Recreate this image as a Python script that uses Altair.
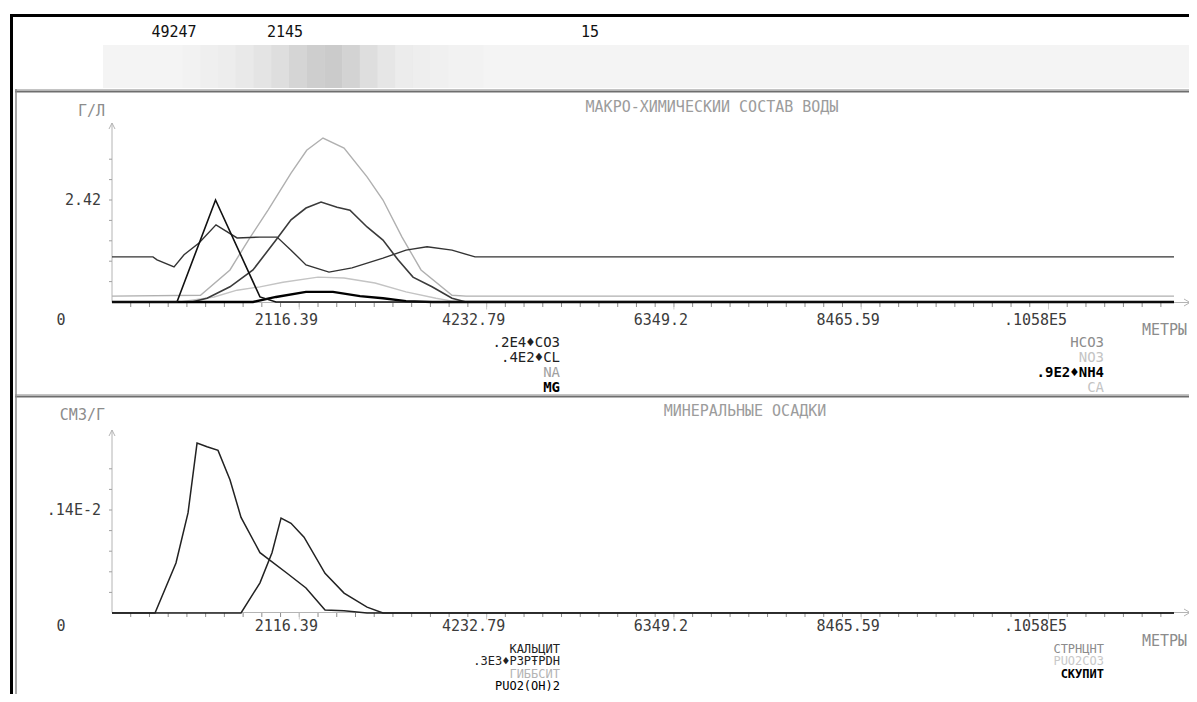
import altair as alt
import pandas as pd

FONT = "DejaVu Sans Mono"
M = 8  # page margin


def cx(v):
    return v - M


def cy(v):
    return v - M


# ---------------- data ----------------
TOP_NUMBERS = ["49247", "2145", "15"]

BAND_X0 = [800, 1000, 1200, 1400, 1600, 1800, 2000, 2200, 2400, 2600, 2800, 3000, 3200, 3400, 3600, 3800, 4000]
BAND_DENSITY = [0.03, 0.08, 0.12, 0.2, 0.3, 0.4, 0.55, 0.7, 0.75, 0.6, 0.4, 0.25, 0.15, 0.1, 0.06, 0.04, 0.03]
BAND_W = 200

X_MAJOR = [2116.39, 4232.79, 6349.2, 8465.59, 10581.95]
X_MAJOR_LABELS = ["2116.39", "4232.79", "6349.2", "8465.59", ".1058E5"]
X_MINOR_STEP = 211.639

# panel 1 : г/л
CA_X = [0, 1000, 1333, 1550, 1763, 2023, 2200, 2384, 2622, 2882, 3062, 3277, 3492, 3842, 4000, 12000]
CA_Y = [0.14, 0.16, 0.76, 1.5, 2.18, 3.06, 3.6, 3.89, 3.65, 2.97, 2.42, 1.54, 0.76, 0.16, 0.14, 0.14]
NO3_X = [0, 768, 1153, 1413, 1672, 1932, 2328, 2622, 2972, 3322, 3661, 3842, 12000]
NO3_Y = [0, 0, 0.12, 0.28, 0.36, 0.47, 0.59, 0.57, 0.45, 0.24, 0.09, 0.02, 0]
NH4_X = [0, 463, 509, 701, 814, 983, 1175, 1413, 1672, 1865, 2023, 2192, 2452, 2712, 3062, 3322, 3560, 3842, 4102, 12000]
NH4_Y = [1.07, 1.07, 1.0, 0.83, 1.12, 1.40, 1.83, 1.52, 1.54, 1.54, 1.23, 0.88, 0.71, 0.81, 1.04, 1.23, 1.31, 1.23, 1.07, 1.07]
CO3_X = [0, 900, 1074, 1333, 1593, 1853, 2023, 2192, 2362, 2543, 2689, 2882, 3062, 3232, 3401, 3616, 3842, 4000, 12000]
CO3_Y = [0, 0, 0.09, 0.36, 0.76, 1.47, 1.95, 2.23, 2.37, 2.25, 2.18, 1.78, 1.47, 1.00, 0.59, 0.36, 0.09, 0, 0]
MG_X = [0, 1593, 1853, 2192, 2497, 2802, 3062, 3322, 3616, 12000]
MG_Y = [0, 0, 0.12, 0.24, 0.24, 0.14, 0.09, 0.02, 0, 0]
CL_X = [0, 734, 1170, 1672, 1853, 12000]
CL_Y = [0, 0, 2.42, 0.12, 0, 0]

# panel 2 : см3/г
CALC_X = [0, 486, 723, 859, 961, 1074, 1198, 1333, 1458, 1672, 1978, 2192, 2407, 2622, 2882, 12000]
CALC_Y = [0, 0, 0.00068, 0.00136, 0.00231, 0.00226, 0.00221, 0.00181, 0.00130, 0.00082, 0.00054, 0.00034,
          0.00004, 0.00003, 0, 0]
RHOD_X = [0, 1458, 1672, 1808, 1910, 2023, 2170, 2407, 2622, 2882, 3062, 12000]
RHOD_Y = [0, 0, 0.00041, 0.00082, 0.00129, 0.00122, 0.00103, 0.00054, 0.00027, 0.00008, 0, 0]

Y1_LABEL_VALUE = 2.42
Y1_TICK_STEP = 0.484
Y2_LABEL_VALUE = 0.0014
Y2_TICK_STEP = 0.00028

LEG1_LEFT = [".2E4♦CO3", ".4E2♦CL", "NA", "MG"]
LEG1_LEFT_COLOR = ["#222222", "#222222", "#a0a0a0", "#000000"]
LEG1_LEFT_BOLD = [False, False, False, True]
LEG1_RIGHT = ["HCO3", "NO3", ".9E2♦NH4", "CA"]
LEG1_RIGHT_COLOR = ["#8c8c8c", "#c4c4c4", "#000000", "#c4c4c4"]
LEG1_RIGHT_BOLD = [False, False, True, False]
LEG2_LEFT = ["КАЛЬЦИТ", ".3E3♦P3PŦPDH", "ГИББСИТ", "PUO2(OH)2"]
LEG2_LEFT_COLOR = ["#222222", "#222222", "#b4b4b4", "#000000"]
LEG2_LEFT_BOLD = [False, False, False, False]
LEG2_RIGHT = ["СТРНЦНТ", "PUO2CO3", "СКУПИТ"]
LEG2_RIGHT_COLOR = ["#8c8c8c", "#c8c8c8", "#000000"]
LEG2_RIGHT_BOLD = [False, False, True]

# ---------------- scales ----------------
XS = alt.Scale(domain=[0, 10581.95], range=[cx(112), cx(1048.5)], nice=False, zero=False)
Y1S = alt.Scale(domain=[0, Y1_LABEL_VALUE], range=[cy(302), cy(200)], nice=False, zero=False)
Y2S = alt.Scale(domain=[0, Y2_LABEL_VALUE], range=[cy(613), cy(510)], nice=False, zero=False)

dummy = pd.DataFrame({"k": [0]})
layers = []


def hrule(x1, x2, y, color, w):
    return alt.Chart(dummy).mark_rule(color=color, strokeWidth=w).encode(
        x=alt.value(cx(x1)), x2=alt.value(cx(x2)), y=alt.value(cy(y)))


def vrule(x, y1, y2, color, w):
    return alt.Chart(dummy).mark_rule(color=color, strokeWidth=w).encode(
        x=alt.value(cx(x)), y=alt.value(cy(y1)), y2=alt.value(cy(y2)))


def drule(x1, y1, x2, y2, color, w):
    return alt.Chart(dummy).mark_rule(color=color, strokeWidth=w).encode(
        x=alt.value(cx(x1)), y=alt.value(cy(y1)), x2=alt.value(cx(x2)), y2=alt.value(cy(y2)))


def label(text, x, y, color="#3c3c3c", align="center", size=15, weight="normal"):
    return alt.Chart(pd.DataFrame({"t": [text]})).mark_text(
        font=FONT, fontSize=size, color=color, align=align, baseline="middle", fontWeight=weight
    ).encode(x=alt.value(cx(x)), y=alt.value(cy(y)), text="t:N")


def series(xv, yv, yscale, color, w):
    df = pd.DataFrame({"x": xv, "y": yv})
    return alt.Chart(df).mark_line(color=color, strokeWidth=w, strokeJoin="miter").encode(
        x=alt.X("x:Q", scale=XS, axis=None),
        y=alt.Y("y:Q", scale=yscale, axis=None),
    )


def legend(items, colors, bolds, xright, y0, y1, size):
    out = []
    for flag, wt in [(False, "normal"), (True, "bold")]:
        rows = [(t, c, i) for i, (t, c, b) in enumerate(zip(items, colors, bolds)) if b == flag]
        if not rows:
            continue
        df = pd.DataFrame({"t": [r[0] for r in rows], "c": [r[1] for r in rows], "r": [r[2] for r in rows]})
        out.append(alt.Chart(df).mark_text(font=FONT, fontSize=size, align="right", baseline="middle",
                                           fontWeight=wt).encode(
            x=alt.value(cx(xright)),
            y=alt.Y("r:Q", scale=alt.Scale(domain=[0, 3], range=[cy(y0), cy(y1)], nice=False, zero=False),
                    axis=None),
            text="t:N",
            color=alt.Color("c:N", scale=None),
        ))
    return out


# ---------------- frame ----------------
layers.append(hrule(10, 1300, 15.5, "#000000", 3))
layers.append(vrule(11.5, 14, 900, "#000000", 3))

# ---------------- top band ----------------
layers.append(alt.Chart(dummy).mark_rect(color="#f4f4f4").encode(
    x=alt.value(cx(103)), x2=alt.value(cx(1195)), y=alt.value(cy(45)), y2=alt.value(cy(88))))
band = pd.DataFrame({"x0": BAND_X0, "x1": [v + BAND_W for v in BAND_X0], "d": [v * 0.6 for v in BAND_DENSITY]})
layers.append(alt.Chart(band).mark_rect(color="#999999").encode(
    x=alt.X("x0:Q", scale=XS, axis=None), x2="x1:Q",
    y=alt.value(cy(45)), y2=alt.value(cy(88)),
    opacity=alt.Opacity("d:Q", scale=None)))
for t, xpos in zip(TOP_NUMBERS, [174, 285, 590]):
    layers.append(label(t, xpos, 32, color="#111111"))

# ---------------- panel borders ----------------
for ytop in (89.5, 394.5):
    layers.append(hrule(15, 1300, ytop, "#c4c4c4", 1))
    layers.append(hrule(15, 1300, ytop + 2, "#6e6e6e", 2))
layers.append(vrule(16, 89, 900, "#8c8c8c", 1.5))


# ---------------- axes ----------------
def axes(base_y, top_y, yscale, ystep, ylabel, unit, title, title_x, title_y, unit_y, lab_y, metry_y):
    out = []
    # y axis
    out.append(vrule(112, base_y, top_y, "#b4b4b4", 1))
    out.append(drule(112, top_y, 109, top_y + 6, "#b4b4b4", 1))
    out.append(drule(112, top_y, 115, top_y + 6, "#b4b4b4", 1))
    yt = pd.DataFrame({"y": [ystep * k for k in range(1, 8)]})
    out.append(alt.Chart(yt).mark_rule(color="#a0a0a0").encode(
        y=alt.Y("y:Q", scale=yscale, axis=None), x=alt.value(cx(109)), x2=alt.value(cx(112))))
    # x axis
    out.append(hrule(112, 1190, base_y, "#b4b4b4", 1))
    out.append(drule(1190, base_y, 1184, base_y - 3.5, "#b4b4b4", 1))
    out.append(drule(1190, base_y, 1184, base_y + 3.5, "#b4b4b4", 1))
    minor = pd.DataFrame({"x": [X_MINOR_STEP * k for k in range(1, 57)]})
    out.append(alt.Chart(minor).mark_rule(color="#8c8c8c").encode(
        x=alt.X("x:Q", scale=XS, axis=None), y=alt.value(cy(base_y + 0.5)), y2=alt.value(cy(base_y + 4.5))))
    major = pd.DataFrame({"x": X_MAJOR, "t": X_MAJOR_LABELS})
    out.append(alt.Chart(major).mark_rule(color="#cccccc").encode(
        x=alt.X("x:Q", scale=XS, axis=None), y=alt.value(cy(base_y + 0.5)), y2=alt.value(cy(base_y + 7))))
    out.append(alt.Chart(major).mark_text(font=FONT, fontSize=15, color="#3c3c3c", baseline="middle",
                                          dx=-13).encode(
        x=alt.X("x:Q", scale=XS, axis=None), y=alt.value(cy(lab_y)), text="t:N"))
    out.append(label("0", 61, lab_y))
    out.append(alt.Chart(pd.DataFrame({"y": [ystep * 5], "t": [ylabel]})).mark_text(
        font=FONT, fontSize=15, color="#3c3c3c", align="right", baseline="middle").encode(
        y=alt.Y("y:Q", scale=yscale, axis=None), x=alt.value(cx(101)), text="t:N"))
    out.append(label(unit, 105, unit_y, color="#8c8c8c", align="right"))
    out.append(label(title, title_x, title_y, color="#9c9c9c"))
    out.append(label("МЕТРЫ", 1142, metry_y, color="#8c8c8c", align="left"))
    return out


layers += axes(302.5, 123, Y1S, Y1_TICK_STEP, "2.42", "Г/Л", "МАКРО-ХИМИЧЕСКИИ СОСТАВ ВОДЫ", 712, 107, 111, 320,
               330)
layers += axes(612.5, 430, Y2S, Y2_TICK_STEP, ".14E-2", "СМ3/Г", "МИНЕРАЛЬНЫЕ ОСАДКИ", 745, 411, 415, 626, 641)

# ---------------- curves ----------------
layers.append(series(NO3_X, NO3_Y, Y1S, "#c4c4c4", 1.4))
layers.append(series(CA_X, CA_Y, Y1S, "#b0b0b0", 1.4))
layers.append(series(NH4_X, NH4_Y, Y1S, "#333333", 1.4))
layers.append(series(CO3_X, CO3_Y, Y1S, "#3a3a3a", 1.6))
layers.append(series(MG_X, MG_Y, Y1S, "#000000", 2.4))
layers.append(series(CL_X, CL_Y, Y1S, "#111111", 1.6))

layers.append(series(RHOD_X, RHOD_Y, Y2S, "#222222", 1.5))
layers.append(series(CALC_X, CALC_Y, Y2S, "#222222", 1.5))

# ---------------- legends ----------------
layers += legend(LEG1_LEFT, LEG1_LEFT_COLOR, LEG1_LEFT_BOLD, 560, 343, 388, 14)
layers += legend(LEG1_RIGHT, LEG1_RIGHT_COLOR, LEG1_RIGHT_BOLD, 1104, 343, 388, 14)
layers += legend(LEG2_LEFT, LEG2_LEFT_COLOR, LEG2_LEFT_BOLD, 560, 649, 686, 12)
layers += legend(LEG2_RIGHT, LEG2_RIGHT_COLOR, LEG2_RIGHT_BOLD, 1104, 649, 686, 12)

chart = alt.layer(*layers).resolve_scale(y="independent").properties(
    width=1181, height=686, padding=0, autosize=alt.AutoSizeParams(type="none")
).configure_view(stroke=None)

chart.save("out.html", embed_options={"renderer": "svg", "actions": False})
